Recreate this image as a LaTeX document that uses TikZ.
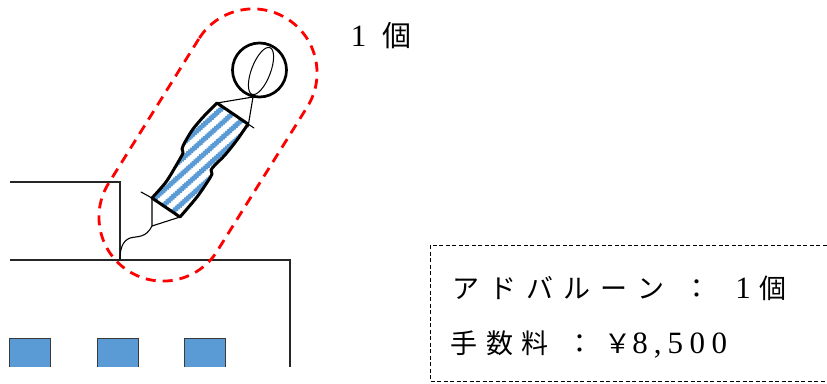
\documentclass[tikz,border=0pt]{standalone}
\usepackage{fontspec}
\newfontfamily\jpfont{Noto Sans CJK JP}
\newfontfamily\latfont{Liberation Serif}
\usetikzlibrary{decorations.pathmorphing,shapes.geometric}
\definecolor{winblue}{HTML}{5B9BD5}
\definecolor{winedge}{HTML}{3A3A3A}
\definecolor{outlinered}{HTML}{FF0000}
\begin{document}
\begin{tikzpicture}[x=1pt,y=-1pt,
  bld/.style={line width=1.3pt, black!85},
  thinline/.style={line width=1.1pt, line cap=round},
  heavy/.style={line width=3pt, line join=round},
  stripe/.style={draw=winblue, line width=3.6pt, decorate,
    decoration={snake, amplitude=0.6pt, segment length=2.5pt}},
  redline/.style={draw=outlinered, line width=2.8pt, dash pattern=on 10pt off 7pt},
  boxline/.style={line width=1pt, dash pattern=on 4pt off 2.5pt},
  txt/.style={anchor=base west, inner sep=0pt}]
\useasboundingbox (0,0) rectangle (827,383);

% buildings
\draw[bld] (10,182) -- (120,182) -- (120,260);
\draw[bld] (10,260) -- (290,260) -- (290,367);
\foreach \x in {9,97,184} {
  \fill[winblue] (\x,338) rectangle ++(41,29);
  \draw[winedge, line width=1pt] (\x,367) -- (\x,338) -- ++(41,0) -- ++(0,29);
}

% red dashed outline
\node[redline, rounded corners=64pt, minimum width=298pt, minimum height=128pt,
      inner sep=0pt, rotate=58] (outline) at (208,145) {};

% balloon
\node[circle, draw, line width=2.7pt, minimum size=54pt, inner sep=0pt] (ball) at (259.5,70) {};
\node[ellipse, draw, line width=1pt, minimum width=50pt, minimum height=19pt,
      inner sep=0pt, rotate=69] (seam) at (261,71) {};

% banner
\def\bannerpath{(217,103) -- (248,124) -- plot[smooth] coordinates {(248,124) (237,140) (225,155) (215,165) (211,170) (212,174) (208,181) (197,197) (180,217)} -- (152,198) -- plot[smooth] coordinates {(152,198) (166,182) (177,164) (183,153) (182,149) (185,142) (193,129) (205,115) (217,103)} -- cycle}
\fill[white] \bannerpath;
\begin{scope}
  \clip \bannerpath;
  \foreach \k in {0,...,4} {
    \draw[stripe, shift={(\k*7.36,\k*8.17)}] (132.1,189.2) -- (236.1,95.6);
  }
\end{scope}
\draw[heavy] \bannerpath;

% strings
\coordinate (cb) at (253,97);
\coordinate (tl) at (217,103);
\coordinate (tr) at (248,127);
\coordinate (trx) at (254,128);
\coordinate (bl) at (152,198);
\coordinate (blx) at (141,192);
\coordinate (br) at (180,217);
\coordinate (knot) at (152,226);
\coordinate (roof) at (120,259);
\draw[thinline] (cb) -- (tl);
\draw[thinline] (cb) -- (tr);
\draw[thinline] (248,124) -- (trx);
\draw[thinline] (blx) -- (bl) -- (knot) -- (br);
\draw[thinline] (knot) .. controls (146,238) and (138,236) .. (130,238)
  .. controls (122,241) and (120,250) .. (roof);

% top label
\node[txt] (count) at (350.75,46.4) {{\latfont\fontsize{31}{31}\selectfont 1}\kern16.25pt{\jpfont\fontsize{29}{29}\selectfont 個}};

% info box
\draw[boxline] (430,245) rectangle (840,381);
\node[txt] (line1) at (452.5,298.5) {\jpfont\fontsize{27}{27}\selectfont ア\kern10ptド\kern10ptバ\kern10ptル\kern10ptー\kern10ptン\kern19pt：\kern24.75pt{\latfont\fontsize{31}{31}\selectfont 1}\kern8.75pt個};
\node[txt] (line2) at (450.5,353.5) {\jpfont\fontsize{27}{27}\selectfont 手\kern8.5pt数\kern8.5pt料\kern17.5pt：\kern11pt￥\kern1.25pt{\latfont\fontsize{31}{31}\selectfont 8\kern6pt,\kern6pt5\kern6.5pt0\kern6.5pt0}};
\end{tikzpicture}
\end{document}
